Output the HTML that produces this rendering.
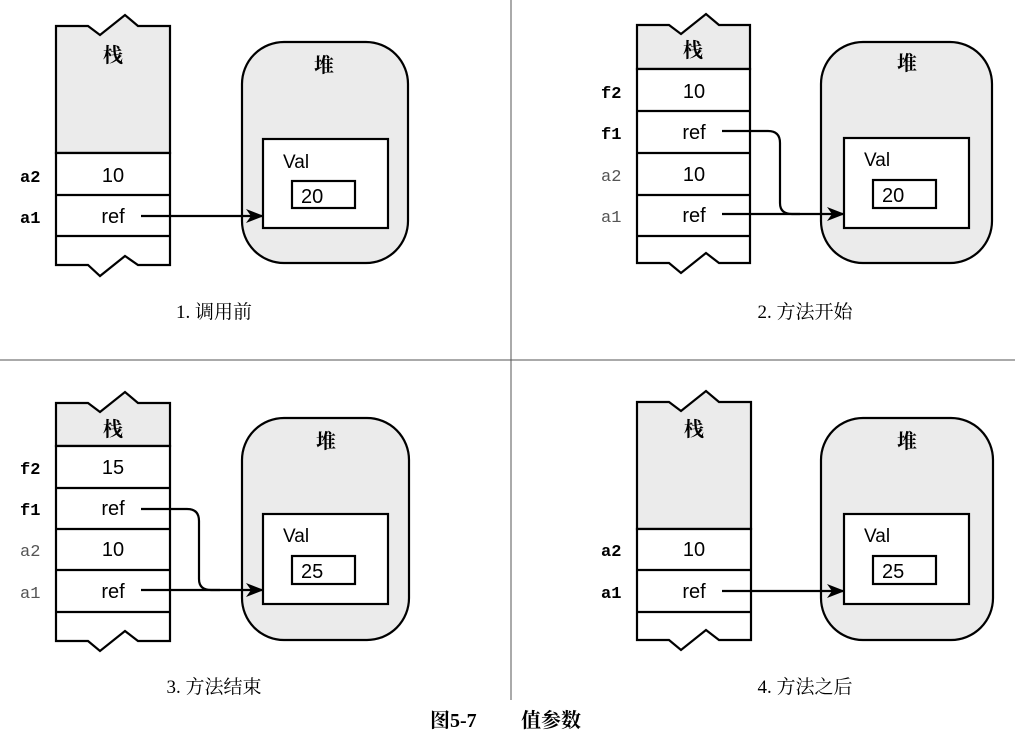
<!DOCTYPE html>
<html><head><meta charset="utf-8"><style>
html,body{margin:0;padding:0;background:#fff;}
svg{display:block;}
.cn{font-family:"Liberation Serif","Noto Serif CJK SC","Noto Sans CJK SC",serif;}
.sans{font-family:"Liberation Sans","Noto Sans CJK SC",sans-serif;}
.mono{font-family:"Liberation Mono","Noto Sans CJK SC",monospace;}
</style></head><body>
<svg width="1015" height="736" viewBox="0 0 1015 736" xmlns="http://www.w3.org/2000/svg">
<defs>
<marker id="ah" markerWidth="18" markerHeight="14" refX="17" refY="7" orient="auto" markerUnits="userSpaceOnUse">
<path d="M0,0 L18,7 L0,14 L5,7 Z" fill="#000"/>
</marker>
</defs>
<g stroke="#000" stroke-width="2" fill="none">
<line x1="0" y1="360" x2="1015" y2="360" stroke="#555" stroke-width="1"/>
<line x1="511" y1="0" x2="511" y2="700" stroke="#555" stroke-width="1"/>
</g>

<!-- Q1 -->
<g stroke="#000" stroke-width="2.2">
<path d="M56,26 L88,26 L100,35 L125,15 L138,26 L170,26 L170,153 L56,153 Z" fill="#ebebeb"/>
<path d="M56,153 L170,153 L170,265 L138,265 L125,256 L100,276 L88,265 L56,265 Z" fill="#fff"/>
<line x1="56" y1="195" x2="170" y2="195"/><line x1="56" y1="236" x2="170" y2="236"/>
<rect x="242" y="42" width="166" height="221" rx="42" fill="#ebebeb"/>
<rect x="263" y="139" width="125" height="89" fill="#fff"/>
<rect x="292" y="181" width="63" height="27" fill="#fff"/>
<line x1="141" y1="216" x2="263" y2="216" marker-end="url(#ah)"/>
</g>
<g fill="#000">
<text x="113" y="62" class="cn" font-size="20" font-weight="bold" text-anchor="middle">栈</text>
<text x="324" y="72" class="cn" font-size="20" font-weight="bold" text-anchor="middle">堆</text>
<text x="20" y="182" class="mono" font-size="17" font-weight="bold">a2</text>
<text x="20" y="223" class="mono" font-size="17" font-weight="bold">a1</text>
<text x="113" y="182" class="sans" font-size="20" text-anchor="middle">10</text>
<text x="113" y="223" class="sans" font-size="20" text-anchor="middle">ref</text>
<text x="283" y="168" class="sans" font-size="19">Val</text>
<text x="301" y="203" class="sans" font-size="20">20</text>
<text x="214" y="318" class="cn" font-size="19" text-anchor="middle">1. 调用前</text>
</g>

<!-- Q2 -->
<g stroke="#000" stroke-width="2.2">
<path d="M637,25 L669,25 L681,34 L706,14 L719,25 L750,25 L750,69 L637,69 Z" fill="#ebebeb"/>
<path d="M637,69 L750,69 L750,263 L719,263 L706,253 L681,273 L669,263 L637,263 Z" fill="#fff"/>
<line x1="637" y1="111" x2="750" y2="111"/><line x1="637" y1="153" x2="750" y2="153"/>
<line x1="637" y1="195" x2="750" y2="195"/><line x1="637" y1="236" x2="750" y2="236"/>
<rect x="821" y="42" width="171" height="221" rx="42" fill="#ebebeb"/>
<rect x="844" y="138" width="125" height="90" fill="#fff"/>
<rect x="873" y="180" width="63" height="28" fill="#fff"/>
<path d="M722,131 L768,131 Q780,131 780,143 L780,203 Q780,214 792,214 L800,214" fill="none"/>
<line x1="722" y1="214" x2="844" y2="214" marker-end="url(#ah)"/>
</g>
<g fill="#000">
<text x="693" y="57" class="cn" font-size="20" font-weight="bold" text-anchor="middle">栈</text>
<text x="907" y="70" class="cn" font-size="20" font-weight="bold" text-anchor="middle">堆</text>
<text x="601" y="98" class="mono" font-size="17" font-weight="bold">f2</text>
<text x="601" y="139" class="mono" font-size="17" font-weight="bold">f1</text>
<text x="601" y="181" class="mono" font-size="17" fill="#555">a2</text>
<text x="601" y="222" class="mono" font-size="17" fill="#555">a1</text>
<text x="694" y="98" class="sans" font-size="20" text-anchor="middle">10</text>
<text x="694" y="139" class="sans" font-size="20" text-anchor="middle">ref</text>
<text x="694" y="181" class="sans" font-size="20" text-anchor="middle">10</text>
<text x="694" y="222" class="sans" font-size="20" text-anchor="middle">ref</text>
<text x="864" y="166" class="sans" font-size="19">Val</text>
<text x="882" y="202" class="sans" font-size="20">20</text>
<text x="805" y="318" class="cn" font-size="19" text-anchor="middle">2. 方法开始</text>
</g>

<!-- Q3 -->
<g stroke="#000" stroke-width="2.2">
<path d="M56,403 L88,403 L100,412 L125,392 L138,403 L170,403 L170,446 L56,446 Z" fill="#ebebeb"/>
<path d="M56,446 L170,446 L170,641 L138,641 L125,631 L100,651 L88,641 L56,641 Z" fill="#fff"/>
<line x1="56" y1="488" x2="170" y2="488"/><line x1="56" y1="529" x2="170" y2="529"/>
<line x1="56" y1="570" x2="170" y2="570"/><line x1="56" y1="612" x2="170" y2="612"/>
<rect x="242" y="418" width="167" height="222" rx="42" fill="#ebebeb"/>
<rect x="263" y="514" width="125" height="90" fill="#fff"/>
<rect x="292" y="556" width="63" height="28" fill="#fff"/>
<path d="M141,509 L187,509 Q199,509 199,521 L199,579 Q199,590 211,590 L220,590" fill="none"/>
<line x1="141" y1="590" x2="263" y2="590" marker-end="url(#ah)"/>
</g>
<g fill="#000">
<text x="113" y="436" class="cn" font-size="20" font-weight="bold" text-anchor="middle">栈</text>
<text x="326" y="448" class="cn" font-size="20" font-weight="bold" text-anchor="middle">堆</text>
<text x="20" y="474" class="mono" font-size="17" font-weight="bold">f2</text>
<text x="20" y="515" class="mono" font-size="17" font-weight="bold">f1</text>
<text x="20" y="556" class="mono" font-size="17" fill="#555">a2</text>
<text x="20" y="598" class="mono" font-size="17" fill="#555">a1</text>
<text x="113" y="474" class="sans" font-size="20" text-anchor="middle">15</text>
<text x="113" y="515" class="sans" font-size="20" text-anchor="middle">ref</text>
<text x="113" y="556" class="sans" font-size="20" text-anchor="middle">10</text>
<text x="113" y="598" class="sans" font-size="20" text-anchor="middle">ref</text>
<text x="283" y="542" class="sans" font-size="19">Val</text>
<text x="301" y="578" class="sans" font-size="20">25</text>
<text x="214" y="693" class="cn" font-size="19" text-anchor="middle">3. 方法结束</text>
</g>

<!-- Q4 -->
<g stroke="#000" stroke-width="2.2">
<path d="M637,402 L669,402 L681,411 L706,391 L719,402 L751,402 L751,529 L637,529 Z" fill="#ebebeb"/>
<path d="M637,529 L751,529 L751,640 L719,640 L706,630 L681,650 L669,640 L637,640 Z" fill="#fff"/>
<line x1="637" y1="570" x2="751" y2="570"/><line x1="637" y1="612" x2="751" y2="612"/>
<rect x="821" y="418" width="172" height="222" rx="42" fill="#ebebeb"/>
<rect x="844" y="514" width="125" height="90" fill="#fff"/>
<rect x="873" y="556" width="63" height="28" fill="#fff"/>
<line x1="722" y1="591" x2="844" y2="591" marker-end="url(#ah)"/>
</g>
<g fill="#000">
<text x="694" y="436" class="cn" font-size="20" font-weight="bold" text-anchor="middle">栈</text>
<text x="907" y="448" class="cn" font-size="20" font-weight="bold" text-anchor="middle">堆</text>
<text x="601" y="556" class="mono" font-size="17" font-weight="bold">a2</text>
<text x="601" y="598" class="mono" font-size="17" font-weight="bold">a1</text>
<text x="694" y="556" class="sans" font-size="20" text-anchor="middle">10</text>
<text x="694" y="598" class="sans" font-size="20" text-anchor="middle">ref</text>
<text x="864" y="542" class="sans" font-size="19">Val</text>
<text x="882" y="578" class="sans" font-size="20">25</text>
<text x="805" y="693" class="cn" font-size="19" text-anchor="middle">4. 方法之后</text>
</g>

<text x="430" y="727" class="cn" font-size="20" font-weight="bold" fill="#000">图5-7</text>
<text x="521" y="727" class="cn" font-size="20" font-weight="bold" fill="#000">值参数</text>
</svg>
</body></html>
